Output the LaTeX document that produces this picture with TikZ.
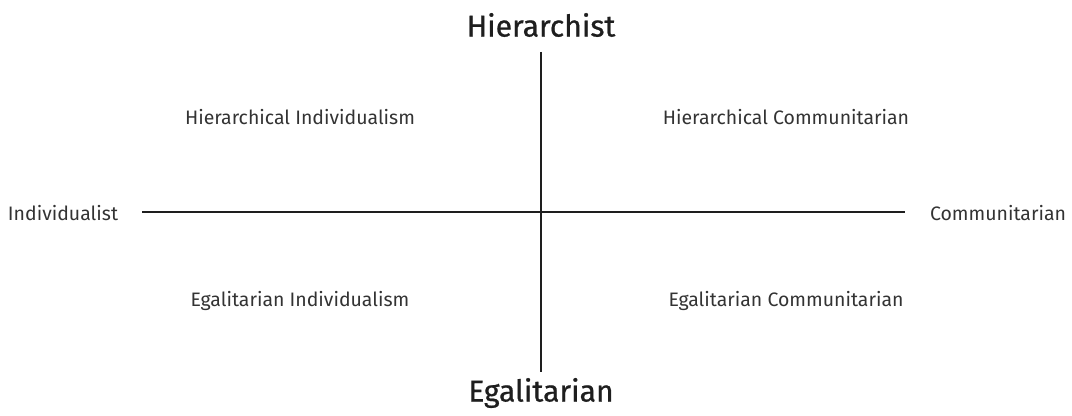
\documentclass[tikz,border=0pt]{standalone}
\usepackage{fontspec}
\setmainfont{Fira Sans}
\newfontfamily\polefont[FakeBold=0.7]{Fira Sans}
\usepackage{xcolor}
\usetikzlibrary{positioning}
\definecolor{inkDark}{HTML}{1E1E1E}
\definecolor{inkText}{HTML}{333333}

\begin{document}
\begin{tikzpicture}[x=0.75pt, y=-0.75pt, every node/.style={align=center}]
    \tikzset{polelabel/.style={font=\polefont\fontsize{22.6}{24}\selectfont,text=inkDark,inner sep=0pt}, sidelabel/.style={font=\fontsize{14.6}{16}\selectfont,text=inkText,inner sep=0pt}, quadlabel/.style={font=\fontsize{14.6}{16}\selectfont,text=inkText,inner sep=0pt}, axisline/.style={line width=2pt,draw=inkDark}}
    \useasboundingbox (0,0) rectangle (1072,416);
    % axis ends
    \coordinate (top) at (541,52);
    \coordinate (bottom) at (541,372);
    \coordinate (left) at (142,212);
    \coordinate (right) at (905,212);
    \node[polelabel] (hier) at (541,25) {Hierarchist};
    \node[polelabel] (egal) at (541,393) {Egalitarian};
    \node[sidelabel] (indiv) at (63,213) {Individualist};
    \node[sidelabel] (comm) at (998,213) {Communitarian};
    \node[quadlabel] (hi) at (300,117) {Hierarchical Individualism};
    \node[quadlabel] (hc) at (786,117) {Hierarchical Communitarian};
    \node[quadlabel] (ei) at (300,301) {Egalitarian Individualism};
    \node[quadlabel] (ec) at (786,301) {Egalitarian Communitarian};
    \draw[axisline] (top)--(bottom);
    \draw[axisline] (left)--(right);
\end{tikzpicture}
\end{document}
